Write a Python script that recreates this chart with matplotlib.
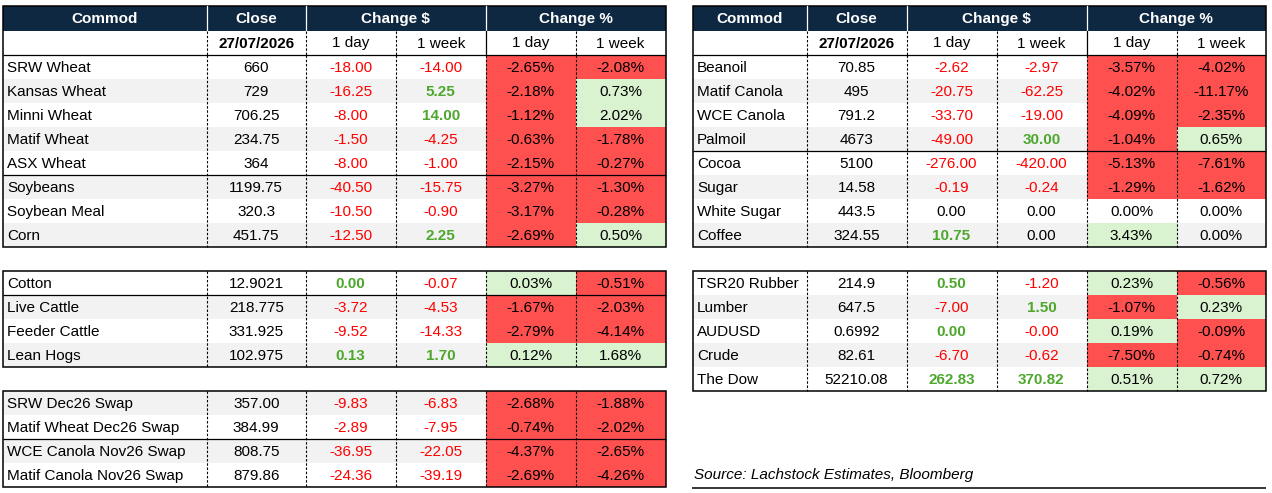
import matplotlib.pyplot as plt
from matplotlib.patches import Rectangle

plt.rcParams['font.family'] = ['Liberation Sans', 'DejaVu Sans']

# ---- data ----
left_a_names = ["SRW Wheat", "Kansas Wheat", "Minni Wheat", "Matif Wheat", "ASX Wheat",
                "Soybeans", "Soybean Meal", "Corn"]
left_a_close = ["660", "729", "706.25", "234.75", "364", "1199.75", "320.3", "451.75"]
left_a_chg_day = [-18.00, -16.25, -8.00, -1.50, -8.00, -40.50, -10.50, -12.50]
left_a_chg_week = [-14.00, 5.25, 14.00, -4.25, -1.00, -15.75, -0.90, 2.25]
left_a_pct_day = [-2.65, -2.18, -1.12, -0.63, -2.15, -3.27, -3.17, -2.69]
left_a_pct_week = [-2.08, 0.73, 2.02, -1.78, -0.27, -1.30, -0.28, 0.50]

left_b_names = ["Cotton", "Live Cattle", "Feeder Cattle", "Lean Hogs"]
left_b_close = ["12.9021", "218.775", "331.925", "102.975"]
left_b_chg_day = [0.004, -3.72, -9.52, 0.13]
left_b_chg_week = [-0.07, -4.53, -14.33, 1.70]
left_b_pct_day = [0.03, -1.67, -2.79, 0.12]
left_b_pct_week = [-0.51, -2.03, -4.14, 1.68]

left_c_names = ["SRW Dec26 Swap", "Matif Wheat Dec26 Swap", "WCE Canola Nov26 Swap",
                "Matif Canola Nov26 Swap"]
left_c_close = ["357.00", "384.99", "808.75", "879.86"]
left_c_chg_day = [-9.83, -2.89, -36.95, -24.36]
left_c_chg_week = [-6.83, -7.95, -22.05, -39.19]
left_c_pct_day = [-2.68, -0.74, -4.37, -2.69]
left_c_pct_week = [-1.88, -2.02, -2.65, -4.26]

right_a_names = ["Beanoil", "Matif Canola", "WCE Canola", "Palmoil", "Cocoa", "Sugar",
                 "White Sugar", "Coffee"]
right_a_close = ["70.85", "495", "791.2", "4673", "5100", "14.58", "443.5", "324.55"]
right_a_chg_day = [-2.62, -20.75, -33.70, -49.00, -276.00, -0.19, 0.0, 10.75]
right_a_chg_week = [-2.97, -62.25, -19.00, 30.00, -420.00, -0.24, 0.0, 0.0]
right_a_pct_day = [-3.57, -4.02, -4.09, -1.04, -5.13, -1.29, 0.0, 3.43]
right_a_pct_week = [-4.02, -11.17, -2.35, 0.65, -7.61, -1.62, 0.0, 0.0]

right_b_names = ["TSR20 Rubber", "Lumber", "AUDUSD", "Crude", "The Dow"]
right_b_close = ["214.9", "647.5", "0.6992", "82.61", "52210.08"]
right_b_chg_day = [0.50, -7.00, 0.0013, -6.70, 262.83]
right_b_chg_week = [-1.20, 1.50, -0.0006, -0.62, 370.82]
right_b_pct_day = [0.23, -1.07, 0.19, -7.50, 0.51]
right_b_pct_week = [-0.56, 0.23, -0.09, -0.74, 0.72]

date_label = "27/07/2026"
source_text = "Source: Lachstock Estimates, Bloomberg"

# ---- style ----
NAVY = "#0E2841"
BAND = "#F2F2F2"
RED_FILL = "#FF5050"
GREEN_FILL = "#D9F2D0"
RED_TXT = "#FF0000"
GREEN_TXT = "#4EA72E"
FS = 11
ROW_H = 24

fig = plt.figure(figsize=(12.72, 4.93), dpi=100)
ax = fig.add_axes([0, 0, 1, 1])
ax.set_xlim(0, 1272)
ax.set_ylim(493, 0)
ax.axis('off')

left_cols = [3, 207, 305.5, 395.5, 486, 575.5, 665.5]
right_cols = [693, 806.5, 906.5, 996.5, 1086.5, 1176.5, 1266]


def dashed_v(x, y0, y1):
    ax.plot([x, x], [y0, y1], color="black", lw=0.8, ls=(0, (2.2, 1.6)), solid_capstyle='butt')


def solid_h(x0, x1, y, lw=0.9):
    ax.plot([x0, x1], [y, y], color="black", lw=lw, solid_capstyle='butt')


def header(cols, y0):
    x0, x1 = cols[0], cols[-1]
    ax.add_patch(Rectangle((x0, y0), x1 - x0, 25, color=NAVY, lw=0))
    for x in (cols[1], cols[2], cols[4]):
        ax.plot([x, x], [y0, y0 + 25], color="white", lw=0.9)
    yc = y0 + 13
    ax.text((cols[0] + cols[1]) / 2, yc, "Commod", color="white", weight="bold",
            ha="center", va="center", fontsize=FS)
    ax.text((cols[1] + cols[2]) / 2, yc, "Close", color="white", weight="bold",
            ha="center", va="center", fontsize=FS)
    ax.text((cols[2] + cols[4]) / 2, yc, "Change $", color="white", weight="bold",
            ha="center", va="center", fontsize=FS)
    ax.text((cols[4] + cols[6]) / 2, yc, "Change %", color="white", weight="bold",
            ha="center", va="center", fontsize=FS)
    ys = y0 + 25
    yc = ys + 12.5
    ax.text((cols[1] + cols[2]) / 2, yc, date_label, weight="bold",
            ha="center", va="center", fontsize=FS)
    for i, lab in zip(range(2, 6), ["1 day", "1 week", "1 day", "1 week"]):
        ax.text((cols[i] + cols[i + 1]) / 2, yc, lab, ha="center", va="center", fontsize=FS)
    for i in (1, 2, 3, 5):
        dashed_v(cols[i], ys, ys + 24)
    ax.plot([cols[4], cols[4]], [ys, ys + 24], color="black", lw=0.9)
    return ys + 24


def block(cols, y0, names, close, chg_d, chg_w, pct_d, pct_w, seps=(), band_first=False):
    n = len(names)
    x0, x1 = cols[0], cols[-1]
    for r in range(n):
        y = y0 + r * ROW_H
        yc = y + ROW_H / 2 + 1
        if (r % 2 == 1) != band_first:
            ax.add_patch(Rectangle((x0, y), x1 - x0, ROW_H, color=BAND, lw=0))
        for j, v in enumerate((pct_d[r], pct_w[r])):
            if v != 0:
                fc = RED_FILL if v < 0 else GREEN_FILL
                ax.add_patch(Rectangle((cols[4 + j], y), cols[5 + j] - cols[4 + j], ROW_H,
                                       color=fc, lw=0))
            ax.text((cols[4 + j] + cols[5 + j]) / 2, yc, f"{v:.2f}%",
                    ha="center", va="center", fontsize=FS)
        ax.text(x0 + 4, yc, names[r], ha="left", va="center", fontsize=FS)
        ax.text((cols[1] + cols[2]) / 2, yc, close[r], ha="center", va="center", fontsize=FS)
        for j, v in enumerate((chg_d[r], chg_w[r])):
            if v > 0:
                kw = dict(color=GREEN_TXT, weight="bold")
            elif v < 0:
                kw = dict(color=RED_TXT)
            else:
                kw = dict(color="black")
            ax.text((cols[2 + j] + cols[3 + j]) / 2, yc, f"{v:.2f}",
                    ha="center", va="center", fontsize=FS, **kw)
    y_end = y0 + n * ROW_H
    for i in range(1, 6):
        dashed_v(cols[i], y0, y_end)
    for s in seps:
        solid_h(x0, x1, y0 + (s + 1) * ROW_H)
    return y_end


def outline(cols, y0, y1):
    ax.add_patch(Rectangle((cols[0], y0), cols[-1] - cols[0], y1 - y0, fill=False,
                           ec="black", lw=1.1))


# left side
y = header(left_cols, 6)
solid_h(left_cols[0], left_cols[-1], y)
y_end = block(left_cols, y, left_a_names, left_a_close, left_a_chg_day, left_a_chg_week,
              left_a_pct_day, left_a_pct_week, seps=(4,))
outline(left_cols, 6, y_end)

y = y_end + ROW_H
y_end = block(left_cols, y, left_b_names, left_b_close, left_b_chg_day, left_b_chg_week,
              left_b_pct_day, left_b_pct_week, seps=(0,))
outline(left_cols, y, y_end)

y = y_end + ROW_H
y_end = block(left_cols, y, left_c_names, left_c_close, left_c_chg_day, left_c_chg_week,
              left_c_pct_day, left_c_pct_week, seps=(1,), band_first=True)
outline(left_cols, y, y_end)

# right side
y = header(right_cols, 6)
solid_h(right_cols[0], right_cols[-1], y)
y_end = block(right_cols, y, right_a_names, right_a_close, right_a_chg_day, right_a_chg_week,
              right_a_pct_day, right_a_pct_week, seps=(3,))
outline(right_cols, 6, y_end)

y = y_end + ROW_H
y_end = block(right_cols, y, right_b_names, right_b_close, right_b_chg_day, right_b_chg_week,
              right_b_pct_day, right_b_pct_week)
outline(right_cols, y, y_end)

ax.text(right_cols[0] + 1, 475, source_text, style="italic", ha="left", va="center",
        fontsize=FS)
solid_h(right_cols[0] - 1, right_cols[-1], 488, lw=1.1)

fig.savefig("out.png", dpi=100)
